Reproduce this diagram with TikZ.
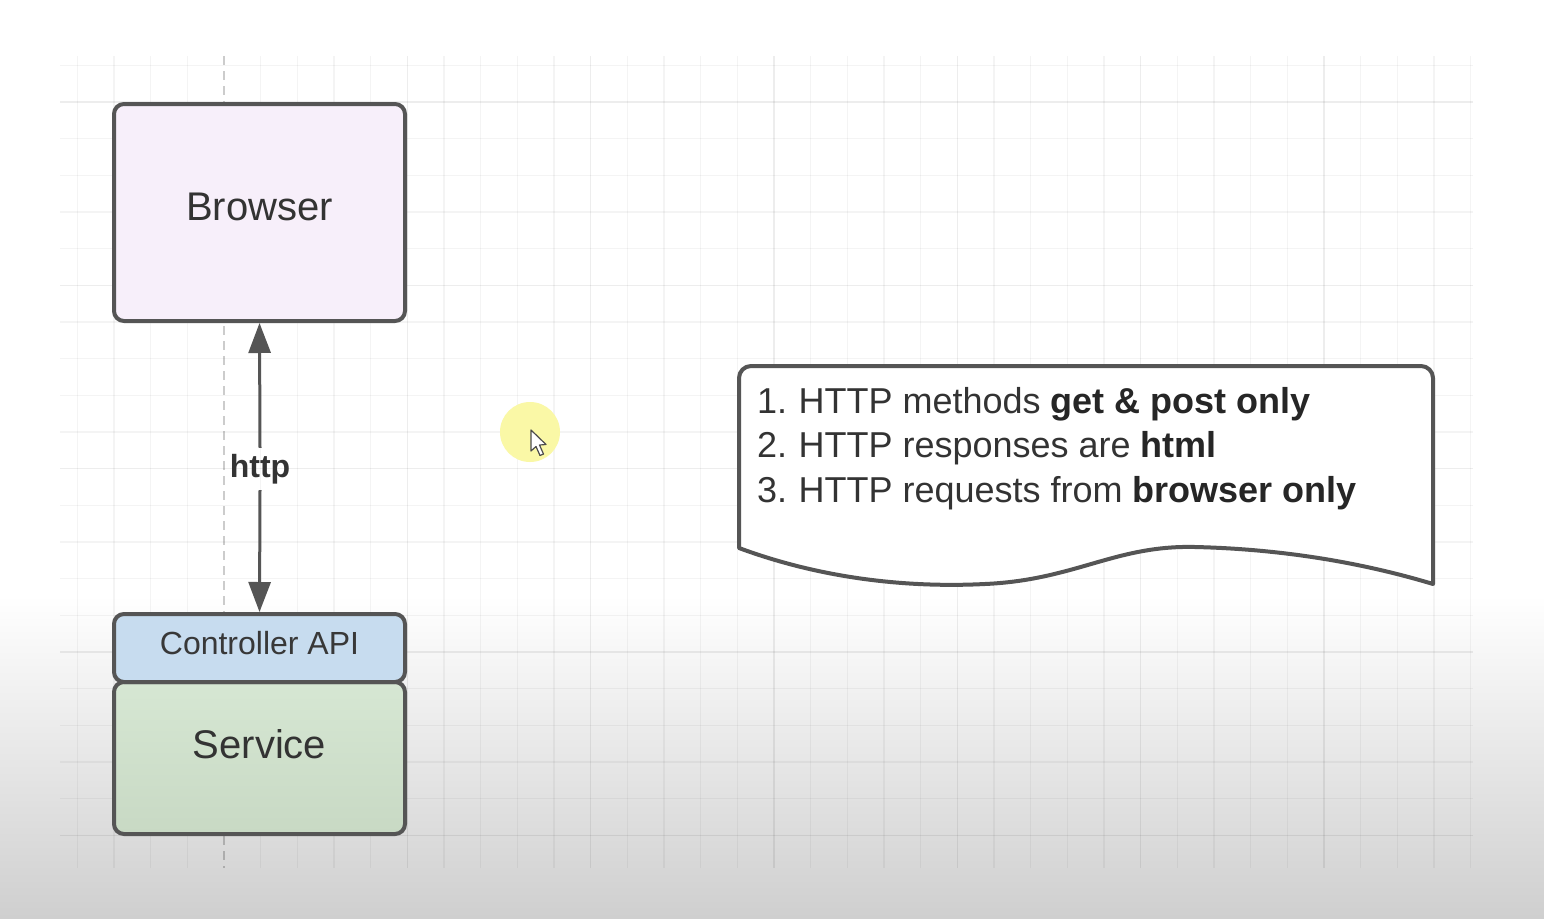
\documentclass[tikz,border=0pt]{standalone}
\usepackage{fontspec}
\setmainfont{Liberation Sans}
\usetikzlibrary{arrows.meta}
\definecolor{edgegray}{HTML}{555555}
\definecolor{txt}{HTML}{333333}
\definecolor{browserfill}{HTML}{F7EFFA}
\definecolor{ctrlfill}{HTML}{C7DCEF}
\definecolor{svctop}{HTML}{D6E7D3}
\definecolor{svcbot}{HTML}{C8D9C4}
\definecolor{bggray}{HTML}{CFCFCF}
\definecolor{hilite}{HTML}{FAF8A6}
\begin{document}
\begin{tikzpicture}[x=1pt,y=-1pt,
  gridminor/.style={draw=black,opacity=0.045,line width=1.3pt},
  gridmajor/.style={draw=black,opacity=0.07,line width=1.6pt},
  guide/.style={draw=black,opacity=0.2,line width=2pt,dash pattern=on 9pt off 6pt},
  box/.style={draw=edgegray,line width=4pt,rounded corners=10pt,inner sep=0pt,minimum width=291pt},
  boxtext/.style={text=txt,inner sep=0pt},
  arrowline/.style={draw=edgegray,line width=3pt,-{Triangle[length=30pt,width=22pt]}},
  notebox/.style={draw=edgegray,fill=white,line width=4pt,line join=round},
  notetext/.style={text=txt,anchor=base west,inner sep=0pt,font=\fontsize{36}{44}\selectfont}]
\useasboundingbox (0,0) rectangle (1544,918);
% background
\fill[white] (0,0) rectangle (1544,918);
\shade[top color=white,bottom color=bggray] (0,595) rectangle (1544,918);
% grid
\foreach \k in {-4,...,34}{
  \pgfmathtruncatemacro{\r}{mod(\k+20,5)}
  \ifnum\r=0 \else \draw[gridminor] ({224+36.667*\k},56) -- ({224+36.667*\k},868); \fi
}
\foreach \x in {407.33,590.67,774,957.33,1140.67,1324} \draw[gridmajor] (\x,56) -- (\x,868);
\foreach \m in {-1,...,20}{
  \pgfmathtruncatemacro{\r}{mod(\m+20,5)}
  \ifnum\r=0 \draw[gridmajor] (60,{102+36.667*\m}) -- (1473,{102+36.667*\m});
  \else \draw[gridminor] (60,{102+36.667*\m}) -- (1473,{102+36.667*\m}); \fi
}
\draw[guide] (224,56) -- (224,868);
% boxes
\node[box,fill=browserfill,minimum height=217pt] (browser) at (259.5,212.5) {};
\node[boxtext,font=\fontsize{40}{48}\selectfont] (browserlabel) at (259.5,207) {Browser};
\node[box,top color=svctop,bottom color=svcbot,minimum height=152pt] (service) at (259.5,758) {};
\node[box,fill=ctrlfill,minimum height=68pt] (controller) at (259.5,648) {};
\node[boxtext,text=black!78,font=\fontsize{32}{38}\selectfont] (controllerlabel) at (259.5,643) {Controller API};
\node[boxtext,text=black!80,font=\fontsize{40}{48}\selectfont] (servicelabel) at (259.5,744) {Service};
% http connector
\node[inner sep=0pt,minimum height=42pt,text=txt,font=\bfseries\fontsize{32}{38}\selectfont] (http) at (260,469) {http};
\draw[arrowline] (http.north) -- (browser.south);
\draw[arrowline] (http.south) -- (controller.north);
% cursor highlight
\fill[hilite] (530,432) circle (30);
\filldraw[fill=white,draw=black!70,line width=1.2pt,line join=round]
  (531,430) -- (531,451) -- (536,446.5) -- (540,455.5) -- (543.5,454) -- (539.5,445) -- (546,444.5) -- cycle;
% note (document shape)
\filldraw[notebox] (739,548) -- (739,378) .. controls (739,371.4) and (744.4,366) .. (751,366)
  -- (1421,366) .. controls (1427.6,366) and (1433,371.4) .. (1433,378)
  -- (1433,584) .. controls (1360,562) and (1280,549) .. (1195,547)
  .. controls (1115,545) and (1075,580) .. (985,584)
  .. controls (905,588) and (820,578) .. (739,548) -- cycle;
\node[notetext] (note1) at (757,413) {1.\kern-2pt{} HTTP methods \textbf{\color{black!85}get \& post only}};
\node[notetext] (note2) at (757,457.5) {2.\kern-2pt{} HTTP responses are \textbf{\color{black!85}html}};
\node[notetext] (note3) at (757,502) {3.\kern-2pt{} HTTP requests from \textbf{\color{black!85}browser only}};
\end{tikzpicture}
\end{document}
